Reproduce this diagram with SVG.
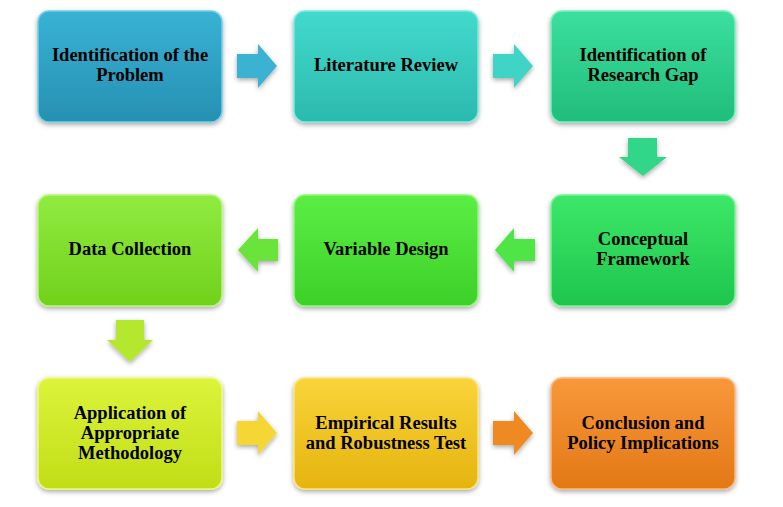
<svg xmlns="http://www.w3.org/2000/svg" width="783" height="507" viewBox="0 0 783 507">
<defs>
<filter id="sh" x="-10%" y="-10%" width="120%" height="125%">
<feGaussianBlur in="SourceAlpha" stdDeviation="2.5"/>
<feOffset dx="0" dy="2" result="b"/>
<feComponentTransfer><feFuncA type="linear" slope="0.35"/></feComponentTransfer>
<feMerge><feMergeNode/><feMergeNode in="SourceGraphic"/></feMerge>
</filter>
<linearGradient id="g1" x1="0" y1="0" x2="0" y2="1"><stop offset="0" stop-color="#38b2d4"/><stop offset="1" stop-color="#2790b2"/></linearGradient>
<linearGradient id="g2" x1="0" y1="0" x2="0" y2="1"><stop offset="0" stop-color="#42dacd"/><stop offset="1" stop-color="#2bbaad"/></linearGradient>
<linearGradient id="g3" x1="0" y1="0" x2="0" y2="1"><stop offset="0" stop-color="#3cdf9e"/><stop offset="1" stop-color="#21bd7c"/></linearGradient>
<linearGradient id="g4" x1="0" y1="0" x2="0" y2="1"><stop offset="0" stop-color="#3ce868"/><stop offset="1" stop-color="#1fc54d"/></linearGradient>
<linearGradient id="g5" x1="0" y1="0" x2="0" y2="1"><stop offset="0" stop-color="#5bee44"/><stop offset="1" stop-color="#3dd029"/></linearGradient>
<linearGradient id="g6" x1="0" y1="0" x2="0" y2="1"><stop offset="0" stop-color="#90eb40"/><stop offset="1" stop-color="#71d11b"/></linearGradient>
<linearGradient id="g7" x1="0" y1="0" x2="0" y2="1"><stop offset="0" stop-color="#dcf43a"/><stop offset="1" stop-color="#c1dd17"/></linearGradient>
<linearGradient id="g8" x1="0" y1="0" x2="0" y2="1"><stop offset="0" stop-color="#f9d43a"/><stop offset="1" stop-color="#e5b40f"/></linearGradient>
<linearGradient id="g9" x1="0" y1="0" x2="0" y2="1"><stop offset="0" stop-color="#f8983a"/><stop offset="1" stop-color="#e37816"/></linearGradient>
</defs>
<style>
.box{stroke-width:1.5;filter:url(#sh)}
.t{font-family:"Liberation Serif","Times New Roman",serif;font-weight:bold;font-size:18.5px;fill:#000;text-anchor:middle}
.arr{filter:url(#sh)}
</style>
<g id="connectors">
<path class="arr" fill="#3ab2d2" d="M237,54 H258 V44 L277,66 L258,88 V78 H237 Z"/>
<path class="arr" fill="#3fd4c6" d="M493,54 H514 V44 L533,66 L514,88 V78 H493 Z"/>
<path class="arr" fill="#30d688" d="M628,138 H657 V157 H667 L643,176 L619,157 H628 Z"/>
<path class="arr" fill="#4fe546" d="M535,239 H514 V228 L495,250 L514,272 V261 H535 Z"/>
<path class="arr" fill="#6be43a" d="M278,239 H258 V228 L238,250 L258,272 V261 H278 Z"/>
<path class="arr" fill="#b4e82e" d="M116,320 H144 V340 H153 L130,362 L107,340 H116 Z"/>
<path class="arr" fill="#f5d634" d="M237,421 H258 V411 L277,433 L258,455 V445 H237 Z"/>
<path class="arr" fill="#ef8a22" d="M493,421 H514 V411 L533,433 L514,455 V445 H493 Z"/>
</g>
<g id="n1"><rect class="box" x="38" y="11" width="184" height="111" rx="11" fill="url(#g1)" stroke="#6fd0ea"/>
<text class="t" x="130" y="61">Identification of the</text><text class="t" x="130" y="81">Problem</text></g>
<g id="n2"><rect class="box" x="294" y="11" width="184" height="111" rx="11" fill="url(#g2)" stroke="#78ece2"/>
<text class="t" x="386" y="71">Literature Review</text></g>
<g id="n3"><rect class="box" x="551" y="11" width="184" height="111" rx="11" fill="url(#g3)" stroke="#78f0c0"/>
<text class="t" x="643" y="61">Identification of</text><text class="t" x="643" y="81">Research Gap</text></g>
<g id="n4"><rect class="box" x="551" y="195" width="184" height="111" rx="11" fill="url(#g4)" stroke="#78f494"/>
<text class="t" x="643" y="245">Conceptual</text><text class="t" x="643" y="265">Framework</text></g>
<g id="n5"><rect class="box" x="294" y="195" width="184" height="111" rx="11" fill="url(#g5)" stroke="#90f87c"/>
<text class="t" x="386" y="255">Variable Design</text></g>
<g id="n6"><rect class="box" x="38" y="195" width="184" height="111" rx="11" fill="url(#g6)" stroke="#b8f67a"/>
<text class="t" x="130" y="255">Data Collection</text></g>
<g id="n7"><rect class="box" x="38" y="378" width="184" height="111" rx="11" fill="url(#g7)" stroke="#eefa7c"/>
<text class="t" x="130" y="419">Application of</text><text class="t" x="130" y="439">Appropriate</text><text class="t" x="130" y="459">Methodology</text></g>
<g id="n8"><rect class="box" x="294" y="378" width="184" height="111" rx="11" fill="url(#g8)" stroke="#fce37a"/>
<text class="t" x="386" y="429">Empirical Results</text><text class="t" x="386" y="449">and Robustness Test</text></g>
<g id="n9"><rect class="box" x="551" y="378" width="184" height="111" rx="11" fill="url(#g9)" stroke="#fbb87a"/>
<text class="t" x="643" y="429">Conclusion and</text><text class="t" x="643" y="449">Policy Implications</text></g>
</svg>
